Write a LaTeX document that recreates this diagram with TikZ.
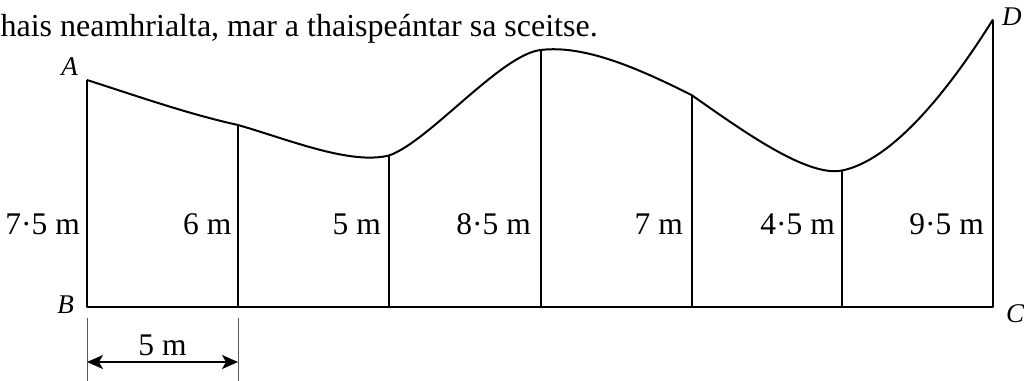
\documentclass[tikz,border=0pt]{standalone}
\usepackage{fontspec}
\setmainfont{Liberation Serif}
\usetikzlibrary{arrows.meta}
\begin{document}
\begin{tikzpicture}[x=1pt,y=-1pt,
  edge/.style={line width=2pt, line join=round},
  meas/.style={font=\fontsize{31.5}{34}\selectfont, anchor=base east, inner sep=0pt},
  corner/.style={font=\fontsize{27}{30}\selectfont\itshape, inner sep=0pt},
  ext/.style={draw=black!65, line width=1pt},
  dimarrow/.style={line width=1.6pt, {Stealth[length=16pt,width=14pt,inset=4pt]}-{Stealth[length=16pt,width=14pt,inset=4pt]}}]
\useasboundingbox (0,0) rectangle (1024,380);
% bottom points
\coordinate (B)  at (87,306.5);
\coordinate (b1) at (238,306.5);
\coordinate (b2) at (389,306.5);
\coordinate (b3) at (540.5,306.5);
\coordinate (b4) at (691.5,306.5);
\coordinate (b5) at (842,306.5);
\coordinate (C)  at (993,306.5);
% top points
\coordinate (A)  at (87,80);
\coordinate (t1) at (238,125);
\coordinate (t2) at (389,155.5);
\coordinate (t3) at (540.5,50);
\coordinate (t4) at (691.5,95);
\coordinate (t5) at (842,170.5);
\coordinate (D)  at (993,19.5);
% curve
\draw[edge] (A) .. controls (137,96) and (188,114) .. (t1)
  .. controls (290,140) and (350,165) .. (t2)
  .. controls (429,141.5) and (500.5,54.9) .. (t3)
  .. controls (585,44.5) and (640,69.25) .. (t4)
  .. controls (741.5,130) and (807,177.5) .. (t5)
  .. controls (892,160.5) and (948,91.5) .. (D);
% frame and verticals
\draw[edge] (A) -- (B) -- (C) -- (D);
\draw[edge] (t1) -- (b1);
\draw[edge] (t2) -- (b2);
\draw[edge] (t3) -- (b3);
\draw[edge] (t4) -- (b4);
\draw[edge] (t5) -- (b5);
% measures
\node[meas] (m0) at (80,234) {7·5 m};
\node[meas] (m1) at (231.5,234) {6 m};
\node[meas] (m2) at (381,234) {5 m};
\node[meas] (m3) at (531,234) {8·5 m};
\node[meas] (m4) at (683,234) {7 m};
\node[meas] (m5) at (835,234) {4·5 m};
\node[meas] (m6) at (984,234) {9·5 m};
% corner letters
\node[corner, anchor=base east] (lA) at (78,75) {A};
\node[corner, anchor=base east] (lB) at (74,313) {B};
\node[corner, anchor=base west] (lC) at (1006,322) {C};
\node[corner, anchor=base west] (lD) at (1002,25) {D};
% dimension
\coordinate (e1) at (87,318);
\coordinate (e2) at (238,318);
\coordinate (e1b) at (87,385);
\coordinate (e2b) at (238,385);
\draw[ext] (e1) -- (e1b);
\draw[ext] (e2) -- (e2b);
\coordinate (d1) at (87,362);
\coordinate (d2) at (238,362);
\draw[dimarrow] (d1) -- (d2);
\node[font=\fontsize{31.5}{34}\selectfont, anchor=base, inner sep=0pt] (dl) at (162.5,355) {5 m};
% text
\node[font=\fontsize{32}{34}\selectfont, anchor=base west, inner sep=0pt] (txt) at (-8.5,36) {thais neamhrialta, mar a thaispeántar sa sceitse.};
\end{tikzpicture}
\end{document}
